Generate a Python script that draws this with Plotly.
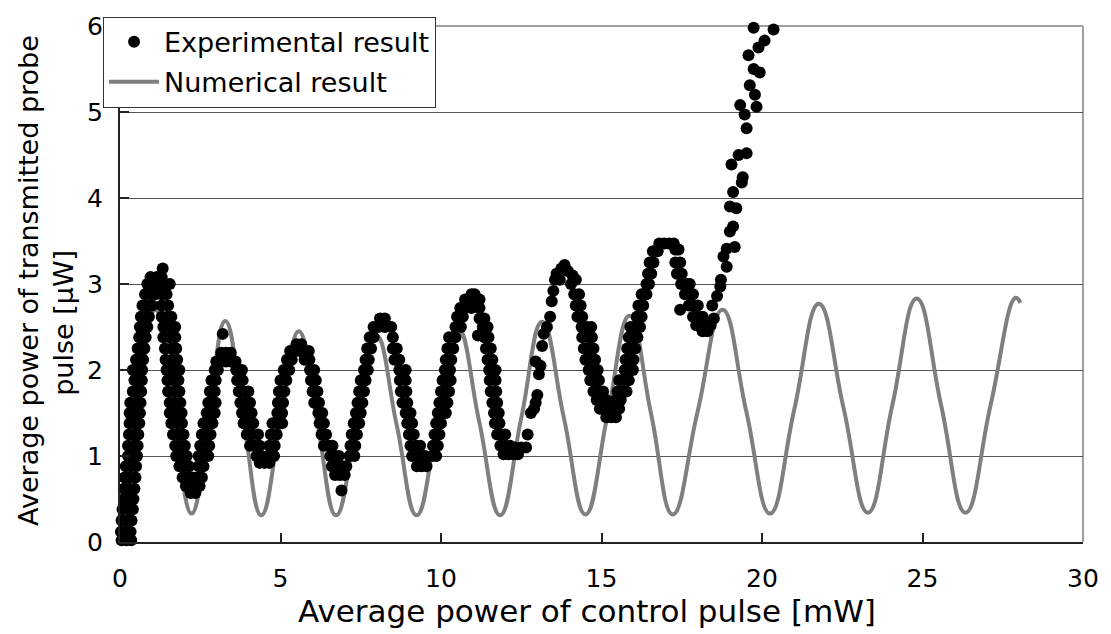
import plotly.graph_objects as go

# ---------------- data ----------------
# Numerical result: extrema and mid-swing points of the simulated curve
num_x = [0.0, 0.55, 1.1, 1.67, 2.23, 2.76, 3.28, 3.84, 4.40, 4.99, 5.57, 6.15, 6.73,
         7.36, 7.99, 8.62, 9.24, 9.89, 10.54, 11.19, 11.84, 12.5, 13.15, 13.83, 14.5,
         15.19, 15.87, 16.55, 17.22, 17.99, 18.77, 19.51, 20.25, 21.01, 21.77, 22.54,
         23.3, 24.06, 24.82, 25.58, 26.34, 27.12, 27.9, 28.05]
num_y = [0.33, 1.52, 2.70, 1.52, 0.33, 1.45, 2.57, 1.44, 0.31, 1.38, 2.45, 1.38, 0.31,
         1.36, 2.40, 1.36, 0.31, 1.40, 2.48, 1.40, 0.31, 1.44, 2.56, 1.44, 0.32,
         1.48, 2.63, 1.48, 0.32, 1.51, 2.70, 1.52, 0.33, 1.55, 2.77, 1.56, 0.34,
         1.59, 2.83, 1.59, 0.34, 1.59, 2.84, 2.78]

# Experimental result: measured points (x [mW], y [uW]) grouped by swing
exp_rise1 = [(0.05,0.02),(0.2,0.02),(0.35,0.02),(0.03,0.12),(0.18,0.12),(0.33,0.12),
             (0.05,0.25),(0.2,0.25),(0.36,0.25),(0.08,0.38),(0.25,0.38),(0.4,0.38),
             (0.12,0.5),(0.3,0.5),(0.42,0.5),(0.12,0.62),(0.28,0.62),(0.45,0.62),
             (0.14,0.75),(0.3,0.75),(0.48,0.75),(0.18,0.88),(0.35,0.88),(0.5,0.88),
             (0.25,1.0),(0.4,1.0),(0.53,1.0),(0.25,1.12),(0.42,1.12),(0.55,1.12),
             (0.28,1.25),(0.45,1.25),(0.57,1.25),(0.3,1.38),(0.46,1.38),(0.6,1.38),
             (0.3,1.5),(0.47,1.5),(0.62,1.5),(0.32,1.62),(0.5,1.62),(0.64,1.62),
             (0.4,1.75),(0.52,1.75),(0.66,1.75),(0.45,1.88),(0.55,1.88),(0.68,1.88),
             (0.4,2.0),(0.55,2.0),(0.69,2.0),(0.5,2.12),(0.6,2.12),(0.72,2.12),
             (0.55,2.25),(0.68,2.25),(0.76,2.25),(0.6,2.38),(0.7,2.38),(0.8,2.38),
             (0.62,2.5),(0.74,2.5),(0.85,2.5),(0.65,2.62),(0.8,2.62),(0.9,2.62),
             (0.7,2.75),(0.85,2.75),(1.0,2.75),(0.78,2.88),(0.95,2.88),(1.1,2.88),
             (0.85,3.0),(1.05,3.0),(1.2,3.0),(1.4,3.0),(0.95,3.08),(1.15,3.08),
             (1.3,3.08),(1.33,3.18)]
exp_fall1 = [(1.55,3.0),(1.3,2.88),(1.45,2.88),(1.3,2.75),(1.5,2.75),
             (1.3,2.62),(1.48,2.62),(1.6,2.62),(1.35,2.5),(1.55,2.5),(1.72,2.5),
             (1.35,2.38),(1.55,2.38),(1.72,2.38),(1.4,2.25),(1.6,2.25),(1.75,2.25),
             (1.42,2.12),(1.62,2.12),(1.78,2.12),(1.45,2.0),(1.65,2.0),(1.85,2.0),
             (1.48,1.88),(1.68,1.88),(1.82,1.88),(1.5,1.75),(1.7,1.75),(1.85,1.75),
             (1.55,1.62),(1.72,1.62),(1.88,1.62),(1.55,1.5),(1.75,1.5),(1.92,1.5),
             (1.6,1.38),(1.78,1.38),(1.93,1.38),(1.65,1.25),(1.82,1.25),(1.98,1.25),
             (1.72,1.12),(1.88,1.12),(2.02,1.12),(1.75,1.0),(1.92,1.0),(2.08,1.0),
             (1.85,0.88),(2.0,0.88),(2.15,0.88),(1.95,0.75),(2.1,0.75),(2.25,0.75),
             (2.4,0.75),(2.05,0.65),(2.2,0.65),(2.35,0.65),(2.48,0.65),(2.2,0.57),
             (2.35,0.57)]
exp_rise2 = [(2.55,0.75),(2.45,0.88),(2.6,0.88),(2.45,1.0),(2.6,1.0),(2.75,1.0),
             (2.5,1.12),(2.65,1.12),(2.78,1.12),(2.55,1.25),(2.7,1.25),(2.82,1.25),
             (2.6,1.38),(2.75,1.38),(2.88,1.38),(2.7,1.5),(2.82,1.5),(2.95,1.5),
             (2.75,1.62),(2.9,1.62),(2.98,1.62),(2.8,1.75),(2.95,1.75),
             (2.85,1.88),(2.98,1.88),(2.95,2.0),(3.05,2.0),
             (3.0,2.1),(3.15,2.1),(3.3,2.1),(3.45,2.1),(3.15,2.2),(3.3,2.2),(3.45,2.2),
             (3.2,2.42)]
exp_fall2 = [(3.6,2.1),(3.62,2.0),(3.8,2.0),(3.65,1.88),(3.82,1.88),
             (3.7,1.75),(3.85,1.75),(4.0,1.75),(3.75,1.62),(3.9,1.62),(4.05,1.62),
             (3.8,1.5),(3.95,1.5),(4.1,1.5),(3.85,1.38),(4.0,1.38),(4.15,1.38),
             (3.95,1.25),(4.1,1.25),(4.3,1.25),(4.05,1.12),(4.2,1.12),(4.35,1.12),
             (4.25,1.0),(4.4,1.0),(4.6,1.0),(4.35,0.92),(4.5,0.92),(4.65,0.92)]
exp_rise3 = [(4.65,1.0),(4.8,1.0),(4.65,1.12),(4.82,1.12),(4.7,1.25),(4.88,1.25),
             (4.75,1.38),(4.92,1.38),(5.05,1.38),(4.9,1.5),(5.05,1.5),
             (4.92,1.62),(5.08,1.62),(4.95,1.75),(5.12,1.75),(5.0,1.88),(5.18,1.88),
             (5.1,2.0),(5.27,2.0),(5.2,2.12),(5.35,2.12),(5.75,2.12),(5.9,2.12),
             (5.3,2.22),(5.45,2.22),(5.6,2.22),(5.75,2.22),(5.88,2.22),
             (5.5,2.3),(5.65,2.3)]
exp_fall3 = [(5.92,2.0),(6.05,2.0),(5.95,1.88),(6.1,1.88),(6.0,1.75),(6.15,1.75),
             (6.05,1.62),(6.2,1.62),(6.18,1.5),(6.3,1.5),(6.22,1.38),(6.35,1.38),
             (6.28,1.25),(6.42,1.25),(6.35,1.12),(6.5,1.12),(6.62,1.12),
             (6.55,1.0),(6.7,1.0),(6.82,1.0),(6.6,0.88),(6.75,0.88),(6.9,0.88),
             (6.7,0.78),(6.85,0.78),(7.0,0.78),(6.9,0.6)]
exp_rise4 = [(7.05,0.88),(7.15,1.0),(7.3,1.0),(7.18,1.12),(7.33,1.12),
             (7.22,1.25),(7.38,1.25),(7.28,1.38),(7.45,1.38),(7.35,1.5),(7.5,1.5),
             (7.4,1.62),(7.55,1.62),(7.45,1.75),(7.6,1.75),(7.5,1.88),(7.65,1.88),
             (7.6,2.0),(7.72,2.0),(7.65,2.12),(7.75,2.12),(7.7,2.25),(7.82,2.25),
             (7.78,2.38),(7.9,2.38),(8.5,2.38),(7.9,2.5),(8.05,2.5),(8.25,2.5),
             (8.45,2.5),(8.1,2.6),(8.25,2.6)]
exp_fall4 = [(8.5,2.25),(8.62,2.25),(8.55,2.12),(8.7,2.12),(8.7,2.0),(8.9,2.0),
             (8.72,1.88),(8.9,1.88),(8.75,1.75),(8.92,1.75),(8.8,1.62),(8.95,1.62),
             (8.9,1.5),(9.05,1.5),(8.95,1.38),(9.1,1.38),(9.0,1.25),(9.15,1.25),
             (9.05,1.12),(9.2,1.12),(9.35,1.12),(9.1,1.0),(9.3,1.0),(9.5,1.0),
             (9.25,0.88),(9.4,0.88),(9.55,0.88)]
exp_rise5 = [(9.72,1.0),(9.85,1.0),(9.75,1.12),(9.9,1.12),(9.8,1.25),(9.95,1.25),
             (9.85,1.38),(10.0,1.38),(9.9,1.5),(10.05,1.5),(10.15,1.5),
             (9.95,1.62),(10.1,1.62),(10.2,1.62),(10.0,1.75),(10.15,1.75),(10.25,1.75),
             (10.05,1.88),(10.2,1.88),(10.3,1.88),(10.12,2.0),(10.28,2.0),
             (10.15,2.12),(10.32,2.12),(10.2,2.25),(10.38,2.25),(10.25,2.38),(10.45,2.38),
             (10.45,2.5),(10.62,2.5),(10.5,2.62),(10.68,2.62),
             (10.6,2.72),(10.75,2.72),(10.95,2.72),(11.2,2.72),
             (10.75,2.82),(10.9,2.82),(11.05,2.82),(11.2,2.82),(10.95,2.88),(11.05,2.88)]
exp_fall5 = [(11.2,2.6),(11.35,2.6),(11.3,2.5),(11.45,2.5),(11.15,2.4),
             (11.35,2.38),(11.48,2.38),(11.4,2.25),(11.55,2.25),(11.45,2.12),(11.6,2.12),
             (11.5,2.0),(11.7,2.0),(11.52,1.88),(11.7,1.88),(11.55,1.75),(11.72,1.75),
             (11.6,1.62),(11.75,1.62),(11.65,1.5),(11.8,1.5),(11.68,1.38),(11.82,1.38),
             (11.75,1.25),(11.9,1.25),(12.0,1.25),(11.85,1.12),(12.0,1.12),(12.15,1.12),
             (11.95,1.02),(12.1,1.02),(12.25,1.02),(12.4,1.02),
             (12.3,1.1),(12.5,1.1),(12.65,1.1)]
exp_rise6 = [(12.7,1.25),(12.8,1.5),(12.9,1.55),(12.95,1.62),(13.0,1.71),(13.05,1.95),
             (12.95,2.1),(13.1,2.05),(13.15,2.28),(13.2,2.42),(13.3,2.5),(13.4,2.62),
             (13.45,2.8),(13.5,2.92),(13.55,3.05),(13.6,3.12),(13.75,3.18),(13.85,3.22),
             (13.95,3.15),(14.1,3.1),(14.2,3.05),(13.7,3.05),(14.05,3.0)]
exp_fall6 = [(14.15,2.88),(14.3,2.88),(14.2,2.75),(14.35,2.75),(14.25,2.62),(14.4,2.62),
             (14.38,2.5),(14.55,2.5),(14.68,2.5),(14.4,2.38),(14.58,2.38),(14.7,2.38),
             (14.45,2.25),(14.6,2.25),(14.75,2.25),(14.5,2.12),(14.65,2.12),(14.8,2.12),
             (14.6,2.0),(14.75,2.0),(14.88,2.0),(14.65,1.88),(14.8,1.88),(14.92,1.88),
             (14.75,1.75),(14.9,1.75),(15.05,1.75),(14.85,1.65),(15.0,1.65),(15.15,1.65),
             (14.95,1.55),(15.1,1.55),(15.25,1.55),(15.4,1.55),
             (15.15,1.45),(15.3,1.45),(15.45,1.45)]
exp_rise7 = [(15.55,1.55),(15.45,1.65),(15.6,1.65),(15.5,1.75),(15.65,1.75),(15.78,1.75),
             (15.55,1.88),(15.7,1.88),(15.85,1.88),(15.72,2.0),(15.85,2.0),(15.98,2.0),
             (15.75,2.12),(15.9,2.12),(16.0,2.12),(15.8,2.25),(15.95,2.25),(16.05,2.25),
             (15.85,2.38),(16.0,2.38),(16.12,2.38),(15.9,2.5),(16.05,2.5),(16.2,2.5),
             (16.1,2.62),(16.25,2.62),(16.15,2.75),(16.3,2.75),(16.25,2.88),(16.4,2.88),
             (16.4,3.0),(16.48,3.0),(16.45,3.12),(16.55,3.12),(16.5,3.25),(16.62,3.25),
             (16.6,3.38),(16.75,3.38),(16.8,3.47),(16.95,3.47),(17.1,3.47),(17.25,3.47),
             (17.3,3.4),(17.4,3.4)]
exp_fall7 = [(17.3,3.25),(17.45,3.25),(17.35,3.12),(17.5,3.12),
             (17.48,3.0),(17.65,3.0),(17.75,3.0),(17.6,2.88),(17.75,2.88),(17.85,2.88),
             (17.72,2.75),(17.88,2.75),(18.0,2.75),(17.45,2.7),
             (17.85,2.62),(18.0,2.62),(18.15,2.62),(17.95,2.52),(18.1,2.52),(18.25,2.52),
             (18.4,2.52),(18.15,2.45),(18.3,2.45)]
exp_rise8 = [(18.5,2.6),(18.45,2.75),(18.6,2.86),(18.7,2.97),(18.72,3.05),(18.9,3.2),
             (18.8,3.32),(19.15,3.43),(18.9,3.41),(19.1,3.67),(19.0,3.61),(19.0,3.9),
             (19.2,3.88),(19.1,4.07),(19.4,4.24),(19.37,4.18),(19.05,4.39),(19.27,4.5),
             (19.52,4.52),(19.52,4.81),(19.46,4.97),(19.32,5.08),(19.83,5.06),(19.78,5.2),
             (19.62,5.31),(19.93,5.46),(19.74,5.5),(19.58,5.66),(19.89,5.75),(20.08,5.83),
             (19.74,5.98),(20.36,5.96)]

exp_points = (exp_rise1 + exp_fall1 + exp_rise2 + exp_fall2 + exp_rise3 + exp_fall3 +
              exp_rise4 + exp_fall4 + exp_rise5 + exp_fall5 + exp_rise6 + exp_fall6 +
              exp_rise7 + exp_fall7 + exp_rise8)
exp_x = [p[0] for p in exp_points]
exp_y = [p[1] for p in exp_points]

x_ticks = [0, 5, 10, 15, 20, 25, 30]
y_ticks = [0, 1, 2, 3, 4, 5, 6]

FONT = "DejaVu Sans"

fig = go.Figure()
fig.add_trace(go.Scatter(
    x=num_x, y=num_y, mode="lines", name="Numerical result",
    line=dict(color="#7f7f7f", width=4, shape="spline", smoothing=1.3),
    legendrank=2, legendgroup="b"))
fig.add_trace(go.Scatter(
    x=exp_x, y=exp_y, mode="markers", name="Experimental result",
    marker=dict(color="black", size=12, line=dict(width=0)),
    cliponaxis=False, legendrank=1, legendgroup="a"))

fig.update_layout(
    width=1111, height=634,
    margin=dict(l=120, r=23, t=20, b=92),
    plot_bgcolor="white", paper_bgcolor="white",
    font=dict(family=FONT, size=25, color="black"),
    showlegend=True,
    legend=dict(x=-0.0176, y=1.018, xanchor="left", yanchor="top",
                bgcolor="white", bordercolor="#333333", borderwidth=1,
                font=dict(family=FONT, size=27, color="black"),
                itemwidth=50, traceorder="grouped", tracegroupgap=2),
    xaxis=dict(range=[0, 30], tickvals=x_ticks, ticks="inside", ticklen=9,
               tickwidth=1.5, tickcolor="#222222", showgrid=False, zeroline=False,
               showline=True, linecolor="#222222", linewidth=2,
               ticklabelstandoff=13, tickfont=dict(family=FONT, size=25)),
    yaxis=dict(range=[0, 6], tickvals=y_ticks, ticks="inside", ticklen=9,
               tickwidth=1.5, tickcolor="#222222", showgrid=True,
               gridcolor="#555555", gridwidth=1, zeroline=False,
               showline=True, linecolor="#222222", linewidth=2,
               ticklabelstandoff=10, tickfont=dict(family=FONT, size=25)),
    shapes=[
        dict(type="line", xref="paper", yref="paper", x0=0, x1=1, y0=1, y1=1,
             line=dict(color="#a0a0a0", width=2), layer="between"),
        dict(type="line", xref="paper", yref="paper", x0=1, x1=1, y0=0, y1=1,
             line=dict(color="#a0a0a0", width=2), layer="between"),
    ],
    annotations=[
        dict(text="Average power of control pulse [mW]", xref="paper", yref="paper",
             x=0.485, y=-0.134, xanchor="center", yanchor="middle", showarrow=False,
             font=dict(family=FONT, size=31, color="black")),
        dict(text="Average power of transmitted probe", xref="paper", yref="paper",
             x=-0.095, y=0.507, xanchor="center", yanchor="middle", showarrow=False,
             textangle=-90, font=dict(family=FONT, size=27, color="black")),
        dict(text="pulse [μW]", xref="paper", yref="paper",
             x=-0.058, y=0.425, xanchor="center", yanchor="middle", showarrow=False,
             textangle=-90, font=dict(family=FONT, size=27, color="black")),
    ],
)

fig.write_html("out.html")
